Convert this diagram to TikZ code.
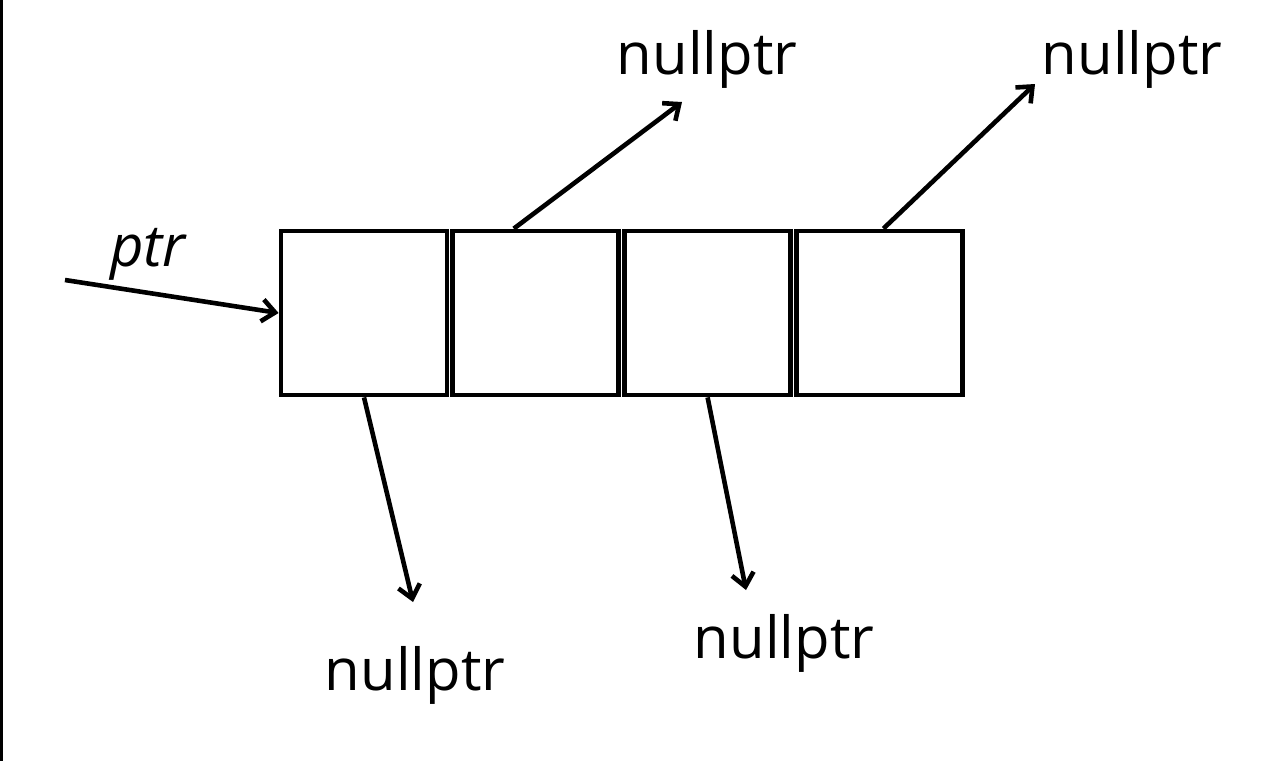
\documentclass[tikz,border=0pt]{standalone}
\usepackage{fontspec}
\setmainfont{Open Sans}
\usetikzlibrary{arrows.meta}
\usetikzlibrary{positioning}
\tikzset{
    every node/.append style={font=\fontsize{29}{34}\selectfont},
    cell/.style={draw, line width=2.4pt, minimum width=83pt, minimum height=82pt, inner sep=0pt},
    arrow/.style={line width=2.3pt, -{Straight Barb[length=6.5pt,width=11pt]}},
    txt/.style={anchor=base, inner sep=0pt},
}

\begin{document}
\begin{tikzpicture}[x=0.5pt,y=-0.5pt]
  \useasboundingbox (0,0) rectangle (1288,761);
  \draw[line width=1.5pt] (1.5,0) -- (1.5,761);

  % cells
  \node[cell] (c1) at (364,313) {};
  \node[cell,right=0.5pt of c1] (c2) {};
  \node[cell,right=0.5pt of c2] (c3) {};
  \node[cell,right=0.5pt of c3] (c4) {};

  % coordinates
  \coordinate (in) at (65,280);
  \coordinate (t2) at (682,102);
  \coordinate (t4) at (1035,84);
  \coordinate (t1) at (413,602);
  \coordinate (t3) at (746,590);

  % labels
  \node[txt] (ptr) at (148,266) {\itshape ptr};
  \node[txt] (n2) at (707,74) {nullptr};
  \node[txt] (n4) at (1132,74) {nullptr};
  \node[txt] (n1) at (415,690) {nullptr};
  \node[txt] (n3) at (784,658) {nullptr};

  % edges
  \draw[arrow] (in) -- (c1.west);
  \draw[arrow] ([xshift=-11pt]c2.north) -- (t2);
  \draw[arrow] ([xshift=2pt]c4.north) -- (t4);
  \draw[arrow] (c1.south) -- (t1);
  \draw[arrow] (c3.south) -- (t3);
\end{tikzpicture}
\end{document}
